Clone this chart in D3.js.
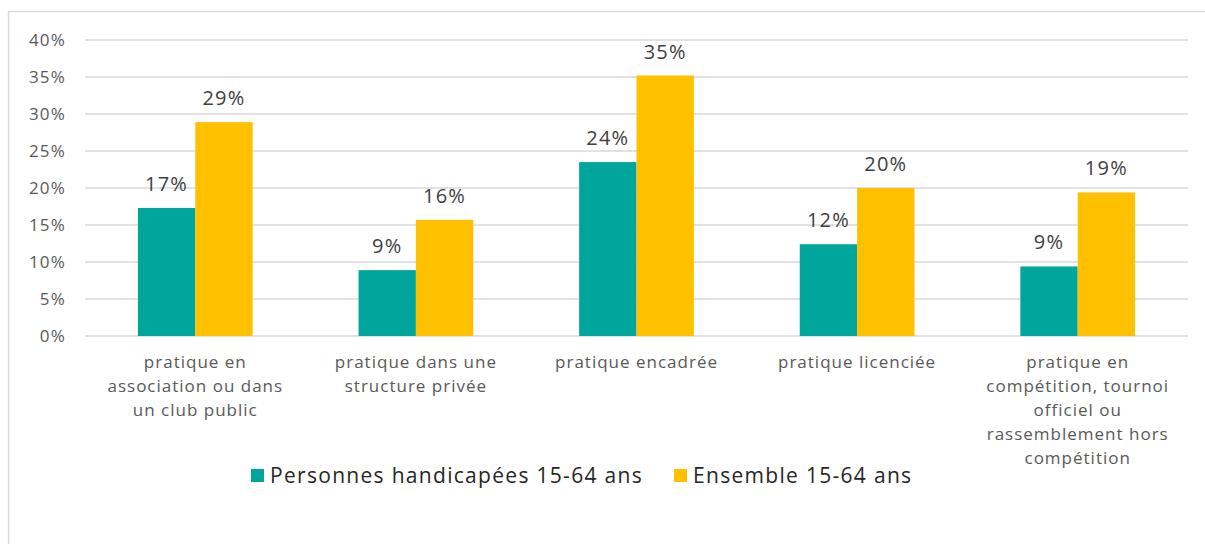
<!DOCTYPE html>
<html>
<head>
<meta charset="utf-8">
<script src="https://cdn.jsdelivr.net/npm/d3@7"></script>
<style>
  body { margin: 0; background: #fff; }
  svg text { font-family: "Open Sans", "Lato", sans-serif; }
</style>
</head>
<body>
<svg></svg>
<script>
// data
var categories = [
	["pratique en", "association ou dans", "un club public"],
	["pratique dans une", "structure privée"],
	["pratique encadrée"],
	["pratique licenciée"],
	["pratique en", "compétition, tournoi", "officiel ou", "rassemblement hors", "compétition"]
];
var seriesNames = ["Personnes handicapées 15-64 ans", "Ensemble 15-64 ans"];
var handicapees = [0.173, 0.089, 0.235, 0.124, 0.094];
var ensemble = [0.289, 0.157, 0.352, 0.200, 0.194];
var yTicks = [0, 0.05, 0.10, 0.15, 0.20, 0.25, 0.30, 0.35, 0.40];
var colors = ["#00A69C", "#FFC000"];

var width = 1205;
var height = 544;

var svg = d3.select("svg")
	.attr("width", width)
	.attr("height", height);

// chart frame
svg.append("path")
	.attr("d", `M8.5,${height} V11.5 H${width}`)
	.attr("fill", "none")
	.attr("stroke", "#d9d9d9")
	.attr("stroke-width", 1.5);

var ids = categories.map((c, i) => i);

var xScale = d3.scaleBand()
	.domain(ids)
	.range([85, 1188])
	.paddingInner(0.48)
	.paddingOuter(0.24);

var xSub = d3.scaleBand()
	.domain([0, 1])
	.range([0, xScale.bandwidth()]);

var yScale = d3.scaleLinear()
	.domain([0, 0.4])
	.range([336, 40]);

// gridlines
svg.append("g")
	.selectAll("line")
	.data(yTicks)
	.enter()
	.append("line")
	.attr("x1", 85)
	.attr("x2", 1188)
	.attr("y1", d => yScale(d))
	.attr("y2", d => yScale(d))
	.attr("stroke", "#d9d9d9")
	.attr("stroke-width", 1.5);

// y axis labels
svg.append("g")
	.attr("transform", "translate(66,0)")
	.call(d3.axisLeft(yScale).tickValues(yTicks).tickFormat(d3.format(".0%")).tickSize(0).tickPadding(0))
	.call(g => g.select(".domain").remove())
	.selectAll("text")
	.attr("fill", "#595959")
	.style("font-size", "17px")
	.style("font-family", "'Open Sans', sans-serif")
	.style("letter-spacing", "1.2px");

// bars
var rows = ids.map(i => [handicapees[i], ensemble[i]]);

var groups = svg.append("g")
	.selectAll("g")
	.data(rows)
	.enter()
	.append("g")
	.attr("transform", (d, i) => `translate(${xScale(i)},0)`);

groups.selectAll("rect")
	.data(d => d)
	.enter()
	.append("rect")
	.attr("x", (d, j) => xSub(j))
	.attr("y", d => yScale(d))
	.attr("width", xSub.bandwidth())
	.attr("height", d => yScale(0) - yScale(d))
	.attr("fill", (d, j) => colors[j]);

groups.selectAll("text")
	.data(d => d)
	.enter()
	.append("text")
	.attr("x", (d, j) => xSub(j) + xSub.bandwidth() / 2)
	.attr("y", d => yScale(d) - 17)
	.attr("text-anchor", "middle")
	.attr("fill", "#404040")
	.style("font-size", "20px")
	.style("letter-spacing", "1.2px")
	.text(d => Math.round(d * 100) + "%");

// category labels
var catLabels = svg.append("g")
	.selectAll("text")
	.data(categories)
	.enter()
	.append("text")
	.attr("x", (d, i) => xScale(i) + xScale.bandwidth() / 2)
	.attr("y", 368)
	.attr("text-anchor", "middle")
	.attr("fill", "#595959")
	.style("font-size", "17px")
	.style("letter-spacing", "1px");

catLabels.selectAll("tspan")
	.data(d => d)
	.enter()
	.append("tspan")
	.attr("x", function() { return d3.select(this.parentNode).attr("x"); })
	.attr("dy", (d, k) => k === 0 ? 0 : 24)
	.text(d => d);

// legend
var legendX = [251, 674];
var legend = svg.append("g")
	.selectAll("g")
	.data(seriesNames)
	.enter()
	.append("g")
	.attr("transform", (d, i) => `translate(${legendX[i]},469)`);

legend.append("rect")
	.attr("width", 13)
	.attr("height", 13)
	.attr("fill", (d, i) => colors[i]);

legend.append("text")
	.attr("x", 19)
	.attr("y", 14)
	.attr("fill", "#262626")
	.style("font-size", "21px")
	.style("letter-spacing", "1.3px")
	.text(d => d);
</script>
</body>
</html>
